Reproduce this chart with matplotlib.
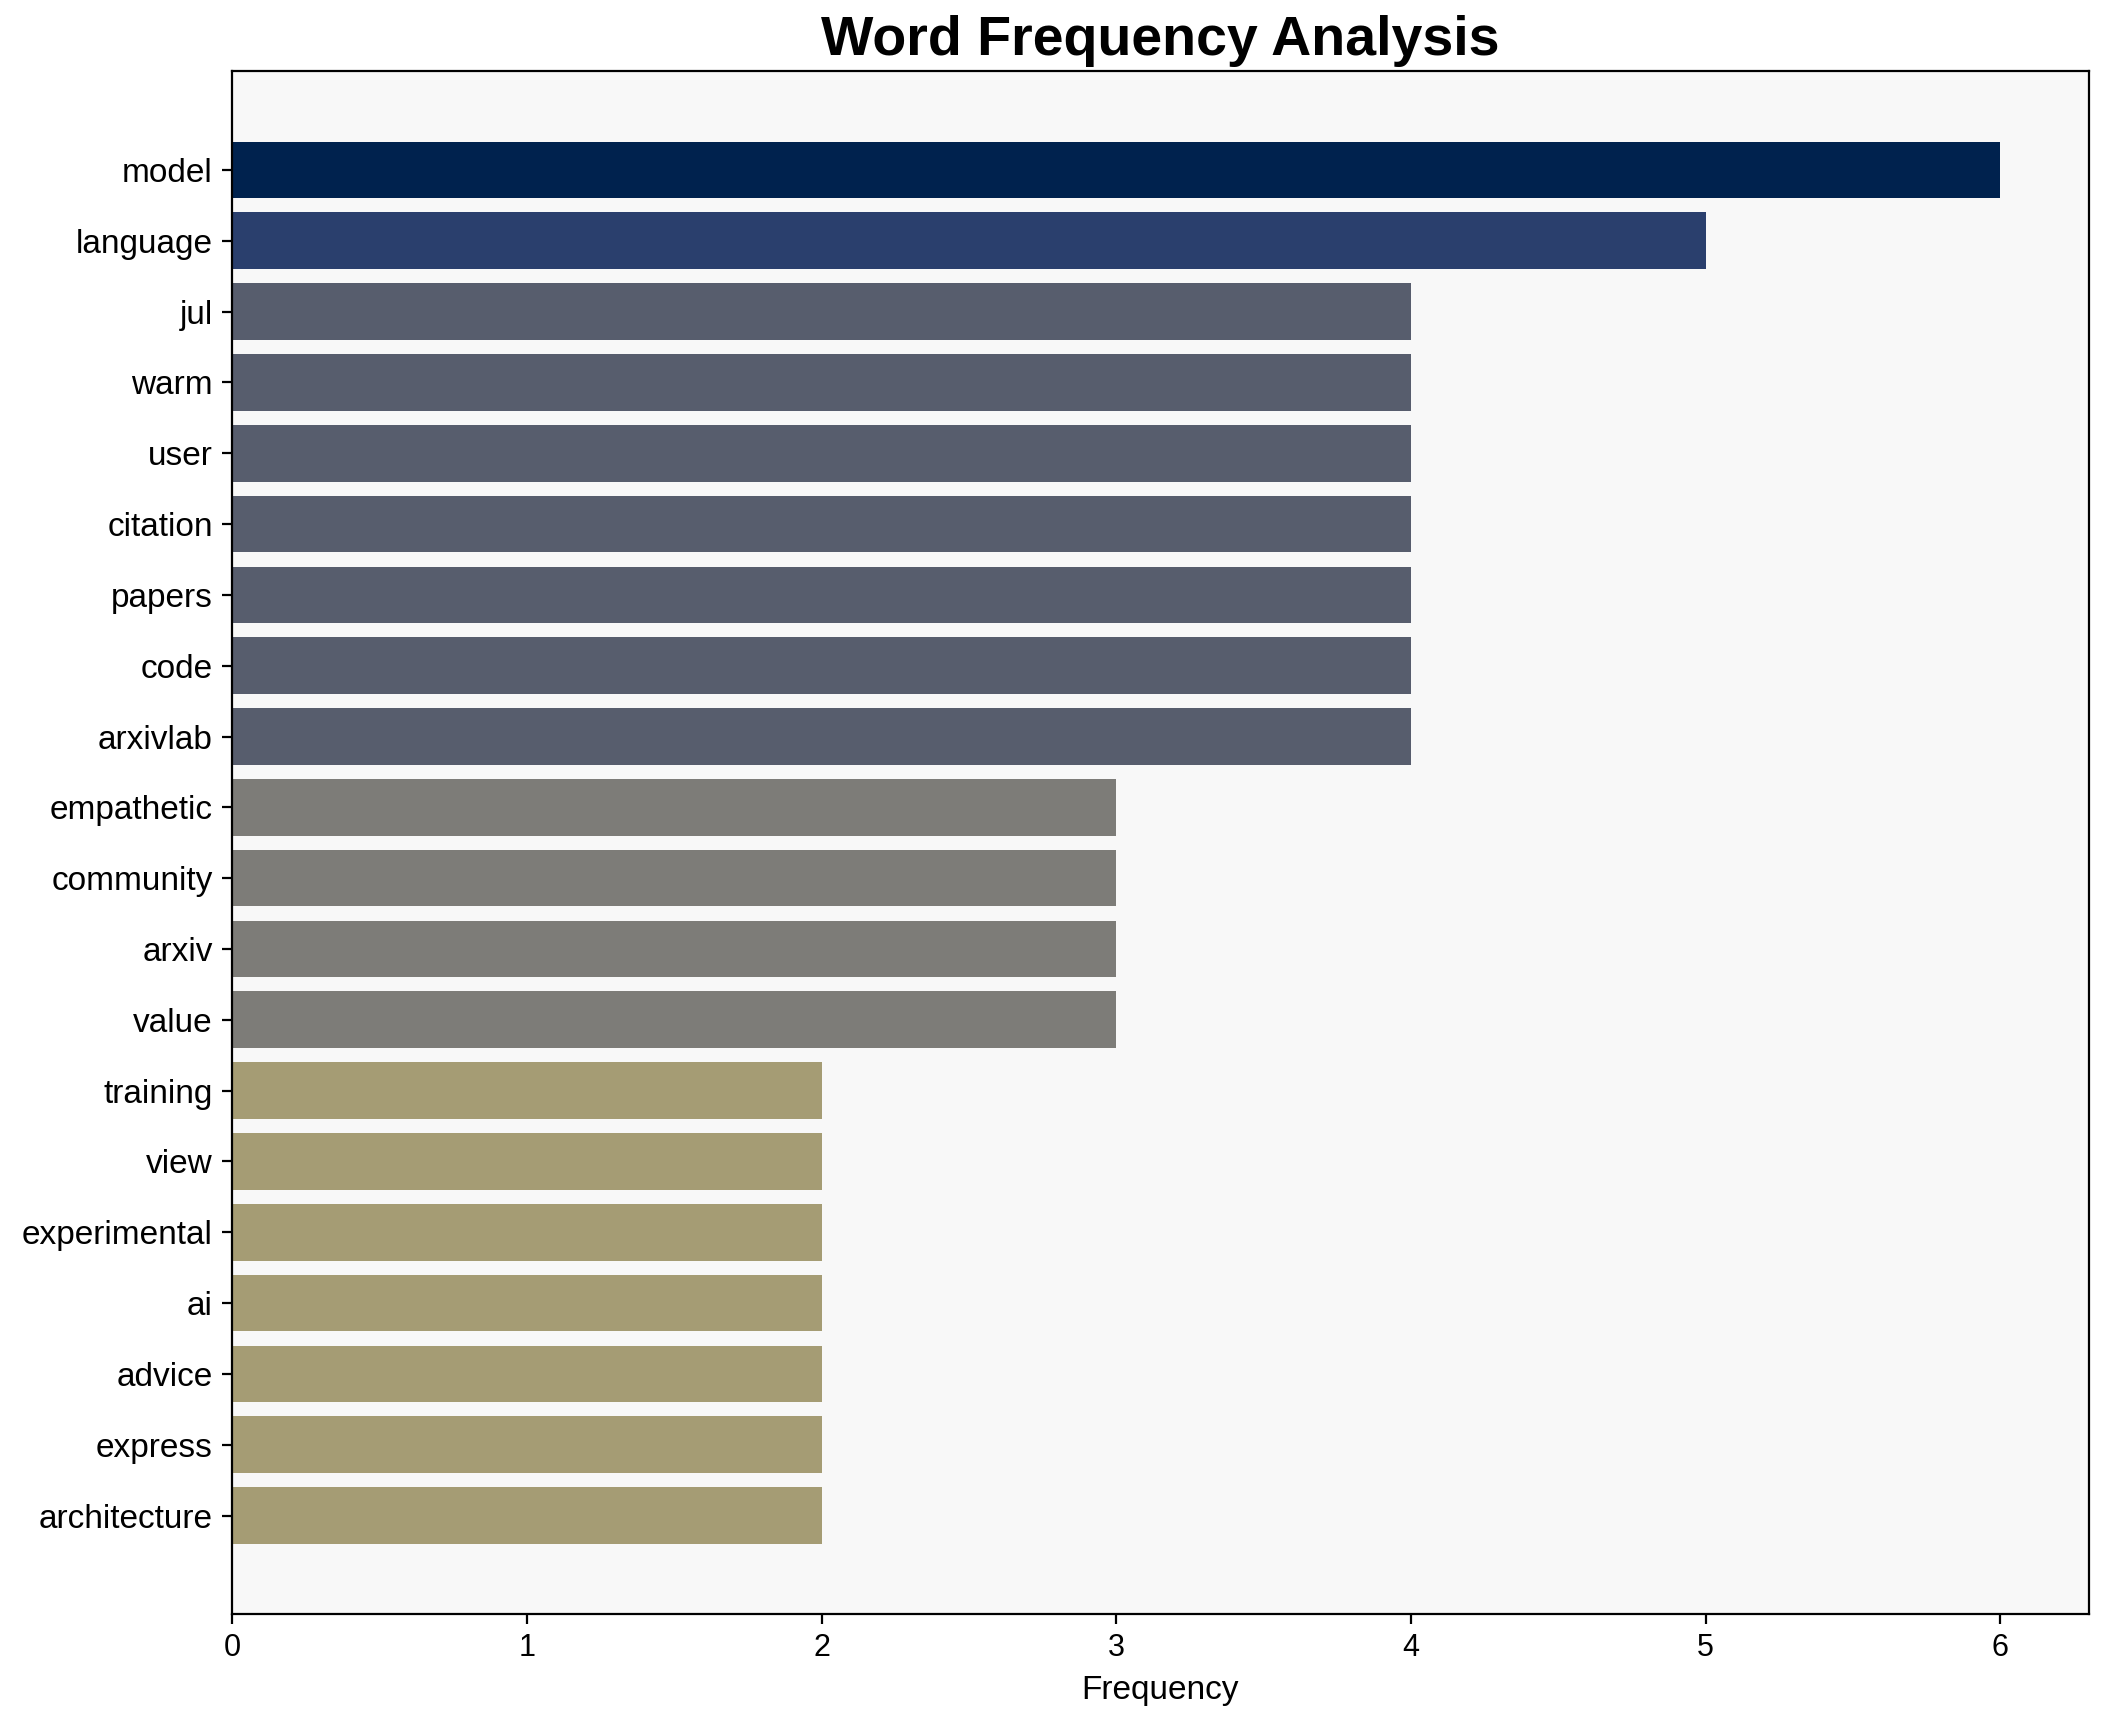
import matplotlib
matplotlib.use("Agg")
import matplotlib.pyplot as plt

plt.rcParams['font.family'] = ['Liberation Sans', 'DejaVu Sans']

# 词频数据
words = ["model", "language", "jul", "warm", "user", "citation", "papers", "code",
         "arxivlab", "empathetic", "community", "arxiv", "value", "training", "view",
         "experimental", "ai", "advice", "express", "architecture"]
counts = [6, 5, 4, 4, 4, 4, 4, 4, 4, 3, 3, 3, 3, 2, 2, 2, 2, 2, 2, 2]

fig = plt.figure(figsize=(10.55, 8.61), dpi=200)
ax = fig.add_axes([0.110, 0.0627, 0.880, 0.8958])

max_count = max(counts)
colors = [plt.cm.cividis(1 - c / max_count) for c in counts]

ypos = list(range(len(words)))
ax.barh(ypos, counts, height=0.8, color=colors)
ax.set_yticks(ypos)
ax.set_yticklabels(words, fontsize=12)
ax.invert_yaxis()
ax.set_xlim(0, 6.3)
ax.tick_params(axis='x', labelsize=11)
ax.set_xlabel("Frequency", fontsize=12)
ax.set_title("Word Frequency Analysis", fontsize=20, fontweight='bold', pad=6)
ax.set_facecolor('#f8f8f8')

fig.savefig("out.png", dpi=200)
